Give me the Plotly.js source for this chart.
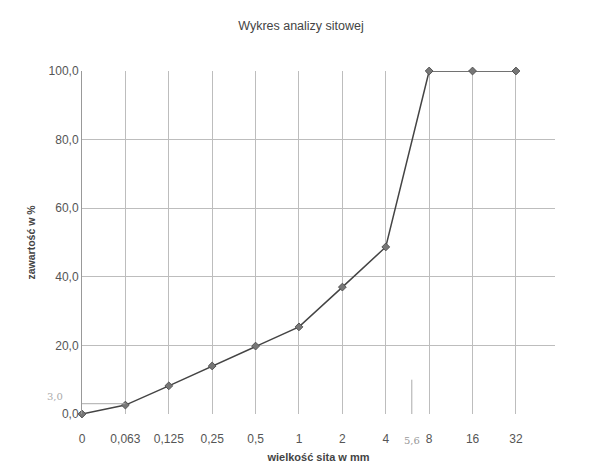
<!DOCTYPE html>
<html>
<head>
<meta charset="utf-8">
<script src="https://cdn.plot.ly/plotly-3.0.1.min.js"></script>
<style>html,body{margin:0;padding:0;background:#fff;}#chart{width:602px;height:472px;}</style>
</head>
<body>
<div id="chart"></div>
<script>
const categories = ["0", "0,063", "0,125", "0,25", "0,5", "1", "2", "4", "8", "16", "32"];
const passing = [0, 2.6, 8.2, 14.0, 19.8, 25.4, 37.0, 48.7, 100, 100, 100];
const yTickVals = [0, 20, 40, 60, 80, 100];
const yTickText = ["0,0", "20,0", "40,0", "60,0", "80,0", "100,0"];

const xIdx = categories.map((c, i) => i);

const trace = {
  x: xIdx,
  y: passing,
  type: "scatter",
  mode: "lines+markers",
  line: {color: "#444", width: 1.5},
  marker: {symbol: "diamond", size: 6, color: "#777", line: {color: "#555", width: 1}},
  cliponaxis: false,
  hoverinfo: "skip"
};

const layout = {
  width: 602, height: 472,
  margin: {l: 82, r: 47, t: 71, b: 58},
  paper_bgcolor: "#fff", plot_bgcolor: "#fff",
  font: {family: "Liberation Sans, Arial, sans-serif", color: "#444", size: 12},
  title: {text: "Wykres analizy sitowej", x: 0.5, xanchor: "center", y: 0.945, yanchor: "middle",
          font: {size: 12.5, color: "#444"}},
  showlegend: false,
  xaxis: {
    range: [0, 10.9],
    tickvals: xIdx, ticktext: categories,
    showgrid: true, gridcolor: "#bdbdbd", gridwidth: 1,
    zeroline: false, showline: false, ticks: "",
    ticklabelstandoff: 16,
    tickfont: {size: 12, color: "#555"},
    title: {text: "<b>wielkość sita w mm</b>", font: {size: 11, color: "#444"}, standoff: 8}
  },
  yaxis: {
    range: [0, 100],
    tickvals: yTickVals, ticktext: yTickText,
    showgrid: true, gridcolor: "#bdbdbd", gridwidth: 1,
    zeroline: false, showline: true, linecolor: "#999", linewidth: 1, ticks: "",
    tickfont: {size: 12, color: "#555"},
    title: {text: "<b>zawartość w %</b>", font: {size: 10.5, color: "#444"}, standoff: 10}
  },
  shapes: [
    {type: "line", xref: "x", yref: "y", x0: 0, x1: 1, y0: 3, y1: 3, line: {color: "#aaa", width: 1}},
    {type: "line", xref: "x", yref: "y", x0: 7.6, x1: 7.6, y0: 0, y1: 10, line: {color: "#aaa", width: 1}}
  ],
  annotations: [
    {text: "3,0", xref: "paper", yref: "y", x: -0.035, y: 5, xanchor: "right", yanchor: "middle",
     showarrow: false, font: {size: 10, color: "#aaa", family: "DejaVu Serif, serif"}},
    {text: "5,6", xref: "x", yref: "paper", x: 7.6, y: -0.055, xanchor: "center", yanchor: "top",
     showarrow: false, font: {size: 10, color: "#999", family: "DejaVu Serif, serif"}}
  ]
};

Plotly.newPlot("chart", [trace], layout, {displayModeBar: false, staticPlot: true});
</script>
</body>
</html>
